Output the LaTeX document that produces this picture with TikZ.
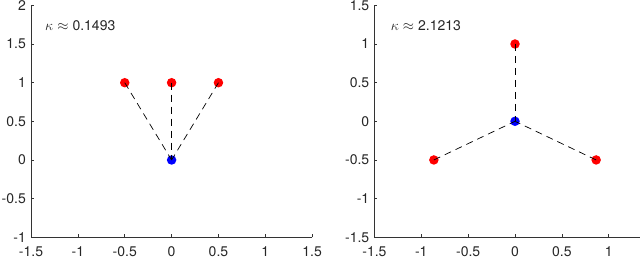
\documentclass[tikz,border=0pt]{standalone}
\usepackage{fontspec}
\setmainfont{TeX Gyre Heros}
\usepackage{tikz}
\usetikzlibrary{positioning}

\begin{document}
\begin{tikzpicture}[
  x=1pt, y=1pt,
  every node/.style={font=\fontsize{14}{16}\selectfont, text=black!85},
  axisline/.style={draw=black!80, line width=0.6pt},
  ticklbl/.style={inner sep=0pt},
  reddot/.style={circle, fill=red, minimum size=9.5pt, inner sep=0pt},
  bluedot/.style={circle, fill=blue, minimum size=9.5pt, inner sep=0pt},
  link/.style={draw=black, line width=0.7pt, dash pattern=on 7pt off 5pt}
]
\useasboundingbox (0,0) rectangle (640,259);

% left axes, flat star
\begin{scope}[shift={(171.6,99)}, x=93.7pt, y=77.3pt]
  \draw[axisline] (-1.5,2) -- (-1.5,-1) -- (1.5,-1);
  \foreach \t in {-1.5,-1,-0.5,0,0.5,1,1.5} {
    \draw[axisline] (\t,-1) -- ++(0,3pt);
    \node[ticklbl, anchor=north] at ([yshift=-9pt]\t,-1) {\t};
  }
  \foreach \t in {-1,-0.5,0,0.5,1,1.5,2} {
    \draw[axisline] (-1.5,\t) -- ++(3pt,0);
    \node[ticklbl, anchor=east] at ([xshift=-5pt]-1.5,\t) {\t};
  }
  \node[anchor=base west, inner sep=0pt] (kapL) at (-1.351,1.673) {$\kappa \approx{}$0.1493};

  \node[bluedot] (oL) at (0,0) {};
  \node[reddot] (aL) at (-0.5,1) {};
  \node[reddot] (bL) at (0,1) {};
  \node[reddot] (cL) at (0.5,1) {};
  \draw[link] (aL.center) -- (oL.center);
  \draw[link] (bL.center) -- (oL.center);
  \draw[link] (cL.center) -- (oL.center);
\end{scope}

% right axes, regular star
\begin{scope}[shift={(515,137.7)}, x=93.7pt, y=77.3pt]
  \draw[axisline] (-1.5,1.5) -- (-1.5,-1.5) -- (1.334,-1.5);
  \foreach \t in {-1.5,-1,-0.5,0,0.5,1} {
    \draw[axisline] (\t,-1.5) -- ++(0,3pt);
    \node[ticklbl, anchor=north] at ([yshift=-9pt]\t,-1.5) {\t};
  }
  \foreach \t in {-1.5,-1,-0.5,0,0.5,1,1.5} {
    \draw[axisline] (-1.5,\t) -- ++(3pt,0);
    \node[ticklbl, anchor=east] at ([xshift=-5pt]-1.5,\t) {\t};
  }
  \node[anchor=base west, inner sep=0pt] (kapR) at (-1.327,1.18) {$\kappa \approx{}$2.1213};

  \node[bluedot] (oR) at (0,0) {};
  \node[reddot] (aR) at (0,1) {};
  \node[reddot] (bR) at (-0.866,-0.5) {};
  \node[reddot] (cR) at (0.866,-0.5) {};
  \draw[link] (aR.center) -- (oR.center);
  \draw[link] (bR.center) -- (oR.center);
  \draw[link] (cR.center) -- (oR.center);
\end{scope}
\end{tikzpicture}
\end{document}
